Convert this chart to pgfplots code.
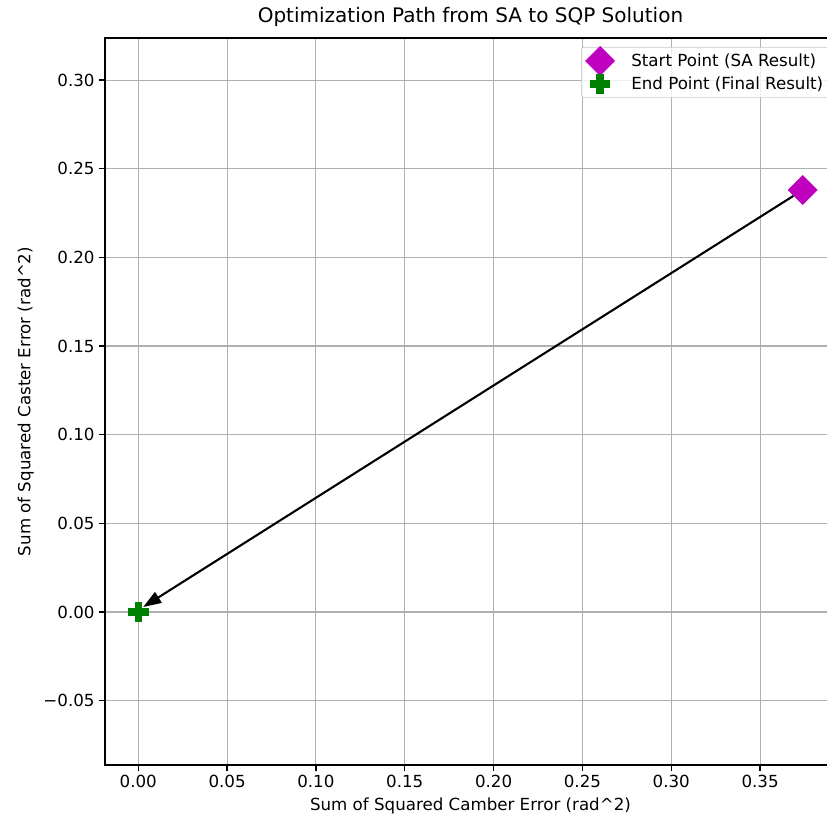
\documentclass[border=0pt]{standalone}
\usepackage{fontspec}
\setmainfont{DejaVu Sans}
\usepackage{pgfplots}
\pgfplotsset{compat=1.18}
\usetikzlibrary{arrows.meta}
\definecolor{mplm}{HTML}{BF00BF}
\definecolor{mplg}{HTML}{008000}
\definecolor{gridc}{HTML}{B0B0B0}
\begin{document}
\begin{tikzpicture}
\begin{axis}[name=ax, at={(0,0)}, anchor=south west,
 scale only axis, width=526.3pt, height=523.4pt,
 xmin=-0.0187, xmax=0.3927, ymin=-0.0863, ymax=0.3237,
 xtick={0,0.05,0.1,0.15,0.2,0.25,0.3,0.35},
 xticklabels={0.00,0.05,0.10,0.15,0.20,0.25,0.30,0.35},
 ytick={-0.05,0,0.05,0.1,0.15,0.2,0.25,0.3},
 yticklabels={−0.05,0.00,0.05,0.10,0.15,0.20,0.25,0.30},
 tick pos=left, tick align=outside, major tick length=4pt,
 grid=major, grid style={gridc, line width=0.8pt},
 axis line style={line width=0.9pt},
 every tick/.style={black, line width=0.9pt},
 font=\fontsize{12}{14}\selectfont,
 ticklabel style={font=\fontsize{12}{14}\selectfont},
 title={Optimization Path from SA to SQP Solution},
 title style={font=\fontsize{14.4}{17}\selectfont, yshift=-1pt},
 xlabel={Sum of Squared Camber Error (rad\textasciicircum 2)},
 ylabel={Sum of Squared Caster Error (rad\textasciicircum 2)},
 legend cell align=left,
 legend style={at={(1,1)}, anchor=north east, xshift=-4pt, yshift=-6.5pt,
   draw=gridc!70, rounded corners=2pt, fill=white, fill opacity=0.8, text opacity=1,
   font=\fontsize{12}{14}\selectfont, row sep=3pt, inner sep=3pt,
   nodes={inner ysep=1.5pt}},
 legend image code/.code={\path[draw=none, fill=none] (-10.5pt,-4pt) (20.5pt,4pt);
   \draw[#1, overlay, fill opacity=1, draw opacity=1] plot[only marks] coordinates {(0pt,0pt)};},
]
\addplot[only marks, mark=square*, mark size=7.4pt, color=mplm, mark options={fill=mplm, draw=mplm, rotate=45}]
  coordinates {(0.374,0.238)};
\addlegendentry{Start Point (SA Result)}
\addplot[only marks, mark=+, mark size=7.4pt, color=mplg, mark options={line width=5.3pt, line cap=butt, draw=mplg}]
  coordinates {(0,0)};
\addlegendentry{End Point (Final Result)}
\addplot[black, line width=1.5pt, shorten <=8pt, -{Triangle[length=13pt,width=9pt]}, forget plot]
  coordinates {(0.374,0.238) (0.0028,0.0028)};
\end{axis}
\pgfresetboundingbox
\useasboundingbox ([shift={(-75.6pt,-37.44pt)}]ax.south west) rectangle ([shift={(519.84pt,550.8pt)}]ax.south west);
\end{tikzpicture}
\end{document}
